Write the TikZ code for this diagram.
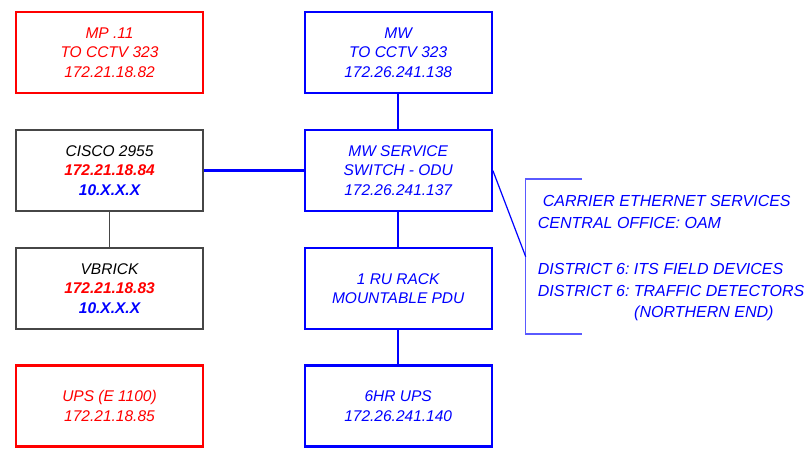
\documentclass[tikz,border=0pt]{standalone}
\usepackage{fontspec}
\setmainfont{Liberation Sans}
\frenchspacing
\definecolor{rd}{RGB}{255,0,0}
\definecolor{bl}{RGB}{0,0,255}
\definecolor{brk}{RGB}{90,90,255}
\definecolor{gr}{RGB}{70,70,70}
\tikzset{
  box/.style={draw, rectangle, inner sep=0pt, minimum width=187pt, minimum height=81pt, align=center,
    font=\fontsize{15.5}{19.5}\selectfont\itshape},
  redbox/.style={box, draw=rd, text=rd, line width=2.3pt},
  bluebox/.style={box, draw=bl, text=bl, line width=2.3pt},
  blackbox/.style={box, draw=gr, text=black, line width=1.1pt},
  bluelink/.style={draw=bl, line width=2.3pt},
  blacklink/.style={draw=gr, line width=1.1pt},
  note/.style={anchor=base west, inner sep=0pt, text=bl, font=\fontsize{16}{19}\selectfont\itshape},
}
\begin{document}
\begin{tikzpicture}[x=1pt,y=-1pt]
\useasboundingbox (0,0) rectangle (808,449);
% left column
\node[redbox] (mp) at (109.5,52.5) {MP .11\\TO CCTV 323\\172.21.18.82};
\node[blackbox] (cisco) at (109.5,170.5) {CISCO 2955\\\textcolor{rd}{\bfseries 172.21.18.84}\\\textcolor{bl}{\bfseries 10.X.X.X}};
\node[blackbox] (vbrick) at (109.5,288.5) {VBRICK\\\textcolor{rd}{\bfseries 172.21.18.83}\\\textcolor{bl}{\bfseries 10.X.X.X}};
\node[redbox] (upsl) at (109.5,406) {UPS (E 1100)\\172.21.18.85};
% center column
\node[bluebox] (mw) at (398.2,52.5) {MW\\TO CCTV 323\\172.26.241.138};
\node[bluebox] (sw) at (398.2,170.5) {MW SERVICE\\SWITCH - ODU\\172.26.241.137};
\node[bluebox] (pdu) at (398.2,288.5) {1 RU RACK\\MOUNTABLE PDU};
\node[bluebox] (ups) at (398.2,406) {6HR UPS\\172.26.241.140};
% connectors
\draw[bluelink] (mw) -- (sw);
\draw[bluelink] (sw) -- (pdu);
\draw[bluelink] (pdu) -- (ups);
\draw[bluelink] (cisco) -- (sw);
\draw[blacklink] (cisco) -- (vbrick);
% bracket
\coordinate (bt) at (582,179);
\coordinate (bb) at (582,334);
\coordinate (bm) at (525.7,256.7);
\draw[brk, line width=1.5pt] (bt) -- (525.7,179) -- (525.7,334) -- (bb);
\draw[bl, line width=1.2pt] (sw.east) -- (bm);
% notes
\node[note] (n1) at (542.7,207) {CARRIER ETHERNET SERVICES};
\node[note] (n2) at (537.7,229) {CENTRAL OFFICE: OAM};
\node[note] (n3) at (537.7,274) {DISTRICT 6: ITS FIELD DEVICES};
\node[note] (n4) at (537.7,296) {DISTRICT 6: TRAFFIC DETECTORS};
\node[note] (n5) at (634,317.5) {(NORTHERN END)};
\end{tikzpicture}
\end{document}
